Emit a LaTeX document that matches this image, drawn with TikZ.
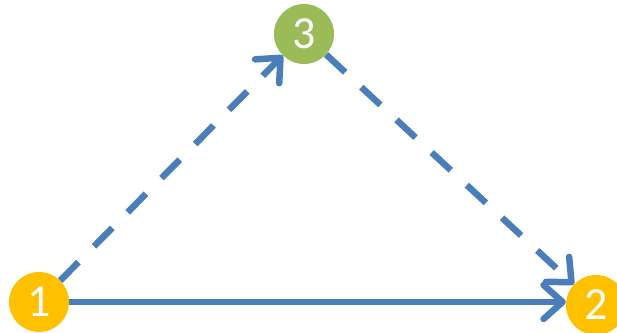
\documentclass[tikz,border=0pt]{standalone}
\usepackage{fontspec}
\setmainfont{Carlito}
\usetikzlibrary{arrows.meta}
\definecolor{gold}{HTML}{FFC000}
\definecolor{olive}{HTML}{9BBB59}
\definecolor{steel}{HTML}{4A7EBB}
\tikzset{
  vertex/.style={circle, minimum size=60pt, inner sep=0pt, text=white, font=\fontsize{46}{46}\selectfont},
  edge/.style={draw=steel, line width=6.5pt, -{Straight Barb[length=19pt, width=34pt, round]}},
  dashededge/.style={edge, dash pattern=on 26pt off 22pt},
}
\begin{document}
\begin{tikzpicture}[x=1pt,y=1pt]
\useasboundingbox (0,0) rectangle (617,332);
\node[vertex, fill=gold] (n1) at (39,30) {1};
\node[vertex, fill=gold] (n2) at (596,27) {2};
\node[vertex, fill=olive] (n3) at (304,298) {3};
\draw[edge] (n1.east) -- (n1.east -| n2.west);
\draw[dashededge] (n1) -- (n3);
\draw[dashededge] (n3) -- (n2);
\end{tikzpicture}
\end{document}
